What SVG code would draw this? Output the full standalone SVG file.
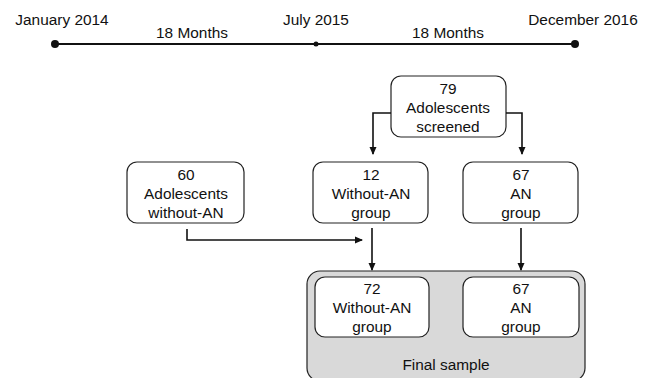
<svg xmlns="http://www.w3.org/2000/svg" width="649" height="378" viewBox="0 0 649 378">
<style>
text{font-family:"Liberation Sans",Arial,sans-serif;font-size:15.4px;fill:#111;text-anchor:middle}
.box{fill:#fff;stroke:#222;stroke-width:1.2}
.line{fill:none;stroke:#111;stroke-width:1.6}
</style>
<defs>
<marker id="ah" markerWidth="8" markerHeight="8" refX="7" refY="4" orient="auto" markerUnits="userSpaceOnUse">
<path d="M0,0.5 L8,4 L0,7.5 Z" fill="#111"/>
</marker>
</defs>
<rect width="649" height="378" fill="#fff"/>
<g id="timeline">
<line x1="55" y1="44" x2="575" y2="44" stroke="#111" stroke-width="2.2"/>
<circle cx="55" cy="44" r="4" fill="#111"/>
<circle cx="316" cy="44" r="2.5" fill="#111"/>
<circle cx="575" cy="44" r="4" fill="#111"/>
<text x="62" y="25">January 2014</text>
<text x="316" y="25">July 2015</text>
<text x="583" y="25">December 2016</text>
<text x="192" y="38">18 Months</text>
<text x="448" y="38">18 Months</text>
</g>
<g id="final">
<rect x="307" y="271" width="278" height="110" rx="13" fill="#d9d9d9" stroke="#222" stroke-width="1.2"/>
<text x="446" y="370">Final sample</text>
</g>
<g id="screened">
<rect class="box" x="391" y="76" width="115" height="61" rx="10"/>
<text x="448" y="94">79</text>
<text x="448" y="113">Adolescents</text>
<text x="448" y="132">screened</text>
</g>
<g id="ext">
<rect class="box" x="127" y="162" width="117" height="61" rx="10"/>
<text x="186" y="180">60</text>
<text x="186" y="199">Adolescents</text>
<text x="186" y="218">without-AN</text>
</g>
<g id="wo12">
<rect class="box" x="313" y="162" width="115" height="61" rx="10"/>
<text x="371" y="180">12</text>
<text x="371" y="199">Without-AN</text>
<text x="371" y="218">group</text>
</g>
<g id="an67">
<rect class="box" x="463" y="162" width="115" height="61" rx="10"/>
<text x="521" y="180">67</text>
<text x="521" y="199">AN</text>
<text x="521" y="218">group</text>
</g>
<g id="wo72">
<rect class="box" x="315" y="277" width="114" height="60" rx="10"/>
<text x="372" y="294">72</text>
<text x="372" y="313">Without-AN</text>
<text x="372" y="332">group</text>
</g>
<g id="an67f">
<rect class="box" x="463" y="277" width="116" height="60" rx="10"/>
<text x="521" y="294">67</text>
<text x="521" y="313">AN</text>
<text x="521" y="332">group</text>
</g>
<g id="connectors">
<path class="line" d="M391,113 H373 V154" marker-end="url(#ah)"/>
<path class="line" d="M506,113 H522 V154" marker-end="url(#ah)"/>
<path class="line" d="M187,229 V240 H362" marker-end="url(#ah)"/>
<path class="line" d="M372,228 V270" marker-end="url(#ah)"/>
<path class="line" d="M521,228 V270" marker-end="url(#ah)"/>
</g>
</svg>
